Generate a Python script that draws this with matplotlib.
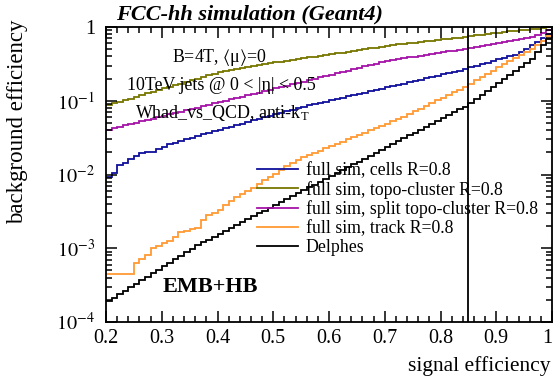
import numpy as np
import matplotlib
matplotlib.use("Agg")
import matplotlib.pyplot as plt
from matplotlib.lines import Line2D
from matplotlib.ticker import MultipleLocator, FuncFormatter, LogLocator

plt.rcParams['font.family'] = ['Liberation Serif', 'DejaVu Serif']
plt.rcParams['mathtext.fontset'] = 'stix'

# signal efficiency bins (0.01 wide, 0.2 -> 1.0)
sig_edges = np.round(np.linspace(0.2, 1.0, 81), 2)
sig_ticks = [0.2, 0.3, 0.4, 0.5, 0.6, 0.7, 0.8, 0.9, 1.0]
sig_tick_labels = ["0.2", "0.3", "0.4", "0.5", "0.6", "0.7", "0.8", "0.9", "1"]

# background efficiency per bin
cells = [0.00933, 0.0105, 0.0135, 0.0145, 0.0162, 0.0178, 0.0195, 0.0200, 0.0204, 0.0219,
         0.0234, 0.0257, 0.0269, 0.0288, 0.0302, 0.0317, 0.0333, 0.0349, 0.0366, 0.0385,
         0.0404, 0.0424, 0.0445, 0.0467, 0.0490, 0.0514, 0.0540, 0.0566, 0.0594, 0.0624,
         0.0655, 0.0687, 0.0721, 0.0757, 0.0794, 0.0830, 0.0863, 0.0900, 0.0935, 0.0975,
         0.101, 0.106, 0.110, 0.115, 0.119, 0.124, 0.129, 0.135, 0.140, 0.146,
         0.152, 0.158, 0.164, 0.171, 0.178, 0.186, 0.193, 0.201, 0.209, 0.218,
         0.227, 0.237, 0.246, 0.256, 0.267, 0.285, 0.299, 0.314, 0.330, 0.346,
         0.363, 0.381, 0.400, 0.420, 0.454, 0.506, 0.564, 0.628, 0.700, 0.813]

topo = [0.0873, 0.0920, 0.0968, 0.102, 0.107, 0.113, 0.119, 0.126, 0.132, 0.139,
        0.147, 0.155, 0.163, 0.171, 0.180, 0.190, 0.200, 0.211, 0.222, 0.234,
        0.244, 0.253, 0.262, 0.271, 0.281, 0.290, 0.299, 0.307, 0.315, 0.324,
        0.332, 0.340, 0.349, 0.358, 0.367, 0.377, 0.387, 0.397, 0.407, 0.418,
        0.429, 0.440, 0.451, 0.463, 0.475, 0.488, 0.500, 0.513, 0.526, 0.540,
        0.553, 0.569, 0.581, 0.592, 0.604, 0.615, 0.628, 0.640, 0.653, 0.665,
        0.679, 0.692, 0.706, 0.719, 0.735, 0.748, 0.767, 0.785, 0.804, 0.822,
        0.841, 0.855, 0.869, 0.885, 0.900, 0.916, 0.931, 0.948, 0.966, 0.986]

split_topo = [0.0406, 0.0425, 0.0444, 0.0462, 0.0483, 0.0504, 0.0526, 0.0550, 0.0573, 0.0598,
              0.0624, 0.0652, 0.0681, 0.0710, 0.0741, 0.0773, 0.0807, 0.0843, 0.0879, 0.0918,
              0.0957, 0.100, 0.1045, 0.109, 0.114, 0.119, 0.124, 0.129, 0.135, 0.141,
              0.147, 0.154, 0.160, 0.167, 0.175, 0.182, 0.190, 0.199, 0.207, 0.216,
              0.225, 0.236, 0.246, 0.256, 0.268, 0.279, 0.292, 0.305, 0.318, 0.332,
              0.346, 0.359, 0.368, 0.378, 0.388, 0.398, 0.409, 0.420, 0.432, 0.443,
              0.454, 0.467, 0.479, 0.492, 0.505, 0.520, 0.536, 0.552, 0.570, 0.588,
              0.605, 0.625, 0.644, 0.664, 0.686, 0.706, 0.728, 0.767, 0.822, 0.902]

track = [4.47e-4, 4.47e-4, 4.47e-4, 4.47e-4, 4.47e-4, 6.24e-4, 7.24e-4, 8.13e-4, 1.00e-3, 1.07e-3,
         1.17e-3, 1.26e-3, 1.41e-3, 1.66e-3, 1.74e-3, 1.82e-3, 1.91e-3, 2.40e-3, 2.82e-3, 3.02e-3,
         3.31e-3, 3.80e-3, 4.37e-3, 4.90e-3, 5.37e-3, 5.89e-3, 6.46e-3, 7.41e-3, 8.32e-3, 9.33e-3,
         0.0102, 0.0115, 0.0129, 0.0145, 0.0158, 0.0174, 0.0186, 0.0195, 0.0209, 0.0229,
         0.0246, 0.0263, 0.0279, 0.0299, 0.0321, 0.0344, 0.0369, 0.0396, 0.0426, 0.0456,
         0.0490, 0.0525, 0.0564, 0.0610, 0.0664, 0.0723, 0.0785, 0.0855, 0.0931, 0.101,
         0.110, 0.120, 0.131, 0.142, 0.155, 0.171, 0.189, 0.209, 0.231, 0.256,
         0.283, 0.312, 0.344, 0.379, 0.418, 0.461, 0.508, 0.575, 0.650, 0.759]

delphes = [1.92e-4, 2.14e-4, 2.39e-4, 2.67e-4, 2.98e-4, 3.32e-4, 3.71e-4, 4.13e-4, 4.61e-4, 5.14e-4,
           5.74e-4, 6.40e-4, 7.14e-4, 7.96e-4, 8.89e-4, 9.91e-4, 1.10e-3, 1.20e-3, 1.31e-3, 1.44e-3,
           1.57e-3, 1.72e-3, 1.88e-3, 2.06e-3, 2.25e-3, 2.47e-3, 2.70e-3, 2.96e-3, 3.24e-3, 3.54e-3,
           3.87e-3, 4.25e-3, 4.65e-3, 5.08e-3, 5.56e-3, 6.08e-3, 6.67e-3, 7.30e-3, 7.98e-3, 8.73e-3,
           9.55e-3, 0.0105, 0.0115, 0.0125, 0.0137, 0.0150, 0.0164, 0.0180, 0.0197, 0.0215,
           0.0236, 0.0258, 0.0283, 0.0309, 0.0338, 0.0370, 0.0406, 0.0444, 0.0485, 0.0531,
           0.0581, 0.0637, 0.0697, 0.0762, 0.0834, 0.0927, 0.105, 0.119, 0.136, 0.154,
           0.175, 0.198, 0.225, 0.255, 0.290, 0.329, 0.373, 0.457, 0.562, 0.692]

labels = ["full sim, cells R=0.8", "full sim, topo-cluster R=0.8",
          "full sim, split topo-cluster R=0.8", "full sim, track R=0.8", "Delphes"]
colours = ["#10109c", "#767600", "#a412a8", "#ff9a33", "#000000"]
working_point = 0.85

W, H = 555, 380


def fx(x):
    return x / W


def fy(y):
    return 1 - y / H


fig = plt.figure(figsize=(W / 100, H / 100), dpi=100)
ax = fig.add_axes([fx(106), fy(322), fx(552) - fx(106), fy(27) - fy(322)])

series = [cells, topo, split_topo, track, delphes]
for vals, c in zip(series, colours):
    ax.stairs(vals, sig_edges, color=c, lw=1.3, baseline=None)

ax.axvline(working_point, color="black", lw=1.3)

ax.set_yscale("log")
ax.set_xlim(0.2, 1.0)
ax.set_ylim(1e-4, 1)

ax.set_xticks(sig_ticks, sig_tick_labels)
ax.xaxis.set_minor_locator(MultipleLocator(0.02))
ax.yaxis.set_major_locator(LogLocator(base=10, numticks=10))
ax.yaxis.set_minor_locator(LogLocator(base=10, subs=np.arange(2, 10), numticks=20))
ax.yaxis.set_major_formatter(FuncFormatter(
    lambda v, p: "1" if abs(v - 1) < 1e-9 else r"$10^{%d}$" % round(np.log10(v))))

ax.tick_params(which="both", direction="in", top=True, right=True, labelsize=14.5, width=1.1)
ax.tick_params(which="major", length=8)
ax.tick_params(axis="x", which="major", pad=5)
ax.tick_params(axis="y", which="major", pad=8)
ax.tick_params(which="minor", length=4)
for s in ax.spines.values():
    s.set_linewidth(1.3)
# keep the last "1" inside the canvas
ax.get_xticklabels()[-1].set_horizontalalignment("right")
ax.get_xticklabels()[-1].set_x(1.0)

handles = [Line2D([], [], color=c, lw=1.3) for c in colours]
ax.legend(handles, labels, loc="upper left", bbox_to_anchor=(fx(257), fy(162)),
          bbox_transform=fig.transFigure, frameon=False, borderpad=0, borderaxespad=0,
          handlelength=2.3, handletextpad=0.45, labelspacing=0.1, fontsize=12.8)

fig.text(fx(116), fy(14), "FCC-hh simulation (Geant4)", fontsize=16,
         fontweight="bold", fontstyle="italic", va="center", ha="left")
fig.text(fx(172), fy(57), r"B=4T, $\langle$μ$\rangle$=0", fontsize=12.9, va="center")
fig.text(fx(127), fy(85), "10TeV jets @ 0 < |η| < 0.5", fontsize=12.9, va="center")
fig.text(fx(135), fy(113), r"Whad_vs_QCD, anti-k$_\mathregular{T}$", fontsize=12.9, va="center")
fig.text(fx(163), fy(287), "EMB+HB", fontsize=16, fontweight="bold", va="center")

fig.text(fx(18), fy(19), "background efficiency", rotation=90, fontsize=16.5,
         ha="center", va="top")
fig.text(fx(551), fy(366), "signal efficiency", fontsize=15.5, ha="right", va="center")

fig.savefig("out.png", dpi=100)
